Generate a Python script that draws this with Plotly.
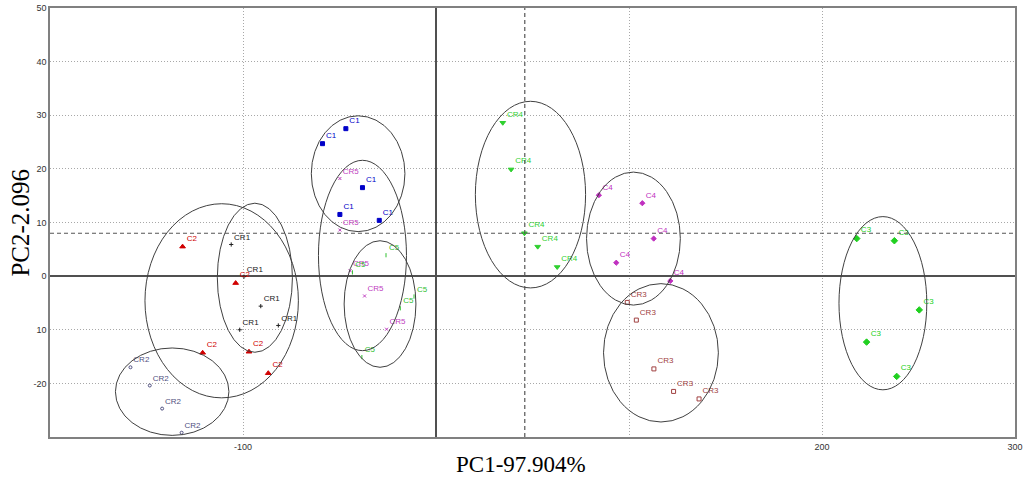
import plotly.graph_objects as go

# PCA scores (PC1, PC2)
c1_x = [-58.8, -46.7, -38.1, -49.8, -29.4]
c1_y = [24.7, 27.5, 16.5, 11.5, 10.4]
cr5_x = [-49.8, -49.8, -44.5, -37.0, -25.6]
cr5_y = [18.2, 8.6, 1.0, -3.7, -9.9]
c5_x = [-25.9, -11.4, -18.5, -38.4, -43.3]
c5_y = [3.9, -3.8, -6.0, -15.1, 0.7]
cr1_x = [-106.1, -99.5, -90.8, -101.7, -81.7]
cr1_y = [5.9, -0.1, -5.6, -10.0, -9.2]
c2_x = [-131.3, -103.8, -120.9, -96.9, -86.9]
c2_y = [5.5, -1.3, -14.3, -14.1, -18.1]
cr2_x = [-158.3, -148.3, -141.9, -131.8]
cr2_y = [-17.0, -20.4, -24.7, -29.2]
cr4_x = [34.6, 38.9, 45.8, 52.7, 62.8]
cr4_y = [28.6, 19.9, 8.0, 5.5, 1.7]
c4_x = [84.4, 106.9, 112.8, 93.4, 121.4]
c4_y = [15.1, 13.6, 7.0, 2.5, -0.9]
cr3_x = [99.1, 103.8, 112.9, 123.1, 136.3]
cr3_y = [-4.9, -8.2, -17.3, -21.5, -22.9]
c3_x = [218.0, 237.5, 250.4, 223.1, 238.7]
c3_y = [7.0, 6.6, -6.3, -12.3, -18.7]

# confidence ellipse bounds per group: x0, x1, y0, y1
ell_c1 = [-64.6, -16.1, 8.3, 29.9]
ell_cr5 = [-60.9, -15.3, -13.9, 21.6]
ell_c5 = [-47.6, -10.4, -17.0, 6.6]
ell_cr1 = [-113.3, -74.4, -14.2, 13.6]
ell_c2 = [-150.8, -71.3, -22.7, 13.5]
ell_cr2 = [-166.1, -107.3, -29.7, -13.4]
ell_cr4 = [20.4, 77.5, -2.2, 32.6]
ell_c4 = [78.0, 126.6, -5.4, 19.4]
ell_cr3 = [86.8, 146.3, -27.2, -1.4]
ell_c3 = [208.8, 254.3, -21.2, 11.1]

center_x = 46.0
center_y = 8.0

x_ticks = [-100, 0, 100, 200, 300]
x_labels = ["-100", "", "", "200", "300"]
y_ticks = [-20, -10, 0, 10, 20, 30, 40, 50]
y_labels = ["-20", "10", "0", "10", "20", "30", "40", "50"]

groups = [
    ("C1", c1_x, c1_y, "#0000c8", "square", 4),
    ("CR5", cr5_x, cr5_y, "#c040c0", "x-thin-open", 3),
    ("C5", c5_x, c5_y, "#30c030", "line-ns-open", 3),
    ("CR1", cr1_x, cr1_y, "#202020", "cross-thin-open", 3),
    ("C2", c2_x, c2_y, "#d00000", "triangle-up", 5),
    ("CR2", cr2_x, cr2_y, "#505080", "circle-open", 3),
    ("CR4", cr4_x, cr4_y, "#30d030", "triangle-down", 5),
    ("C4", c4_x, c4_y, "#c030c0", "diamond", 4),
    ("CR3", cr3_x, cr3_y, "#a04040", "square-open", 4),
    ("C3", c3_x, c3_y, "#20d020", "diamond", 5),
]
ellipses = [ell_c1, ell_cr5, ell_c5, ell_cr1, ell_c2,
            ell_cr2, ell_cr4, ell_c4, ell_cr3, ell_c3]

fig = go.Figure()

for name, xs, ys, color, symbol, size in groups:
    fig.add_trace(go.Scatter(
        x=xs, y=ys,
        mode='markers+text',
        text=[name] * len(xs),
        textposition='top right',
        textfont=dict(family='Liberation Sans', size=8, color=color),
        marker=dict(symbol=symbol, size=size, color=color,
                    line=dict(color=color, width=1)),
        name=name,
        showlegend=False,
    ))

shapes = []
for x0, x1, y0, y1 in ellipses:
    shapes.append(dict(type='circle', xref='x', yref='y',
                       x0=x0, x1=x1, y0=y0, y1=y1,
                       line=dict(color='#404040', width=1)))

# dashed centre cross
shapes.append(dict(type='line', xref='x', yref='paper', x0=center_x, x1=center_x,
                   y0=0, y1=1, line=dict(color='#555555', width=1.2, dash='4px,3px')))
shapes.append(dict(type='line', xref='paper', yref='y', x0=0, x1=1,
                   y0=center_y, y1=center_y, line=dict(color='#555555', width=1.2, dash='4px,3px')))

grid_dash = '1px,2px'

fig.update_layout(
    width=1024, height=484,
    margin=dict(l=50, r=9, t=8, b=47),
    plot_bgcolor='white',
    paper_bgcolor='white',
    shapes=shapes,
    xaxis=dict(
        range=[-200, 300],
        tickvals=x_ticks, ticktext=x_labels,
        showgrid=True, gridcolor='#a8a8a8', griddash=grid_dash, gridwidth=1,
        zeroline=True, zerolinecolor='#505050', zerolinewidth=1.5,
        showline=True, mirror=True, linecolor='#808080', linewidth=1.5,
        ticks='', automargin=False, ticklabeloverflow='allow',
        tickfont=dict(family='Liberation Sans', size=9, color='#333333'),
    ),
    yaxis=dict(
        range=[-30, 50],
        tickvals=y_ticks, ticktext=y_labels,
        showgrid=True, gridcolor='#a8a8a8', griddash=grid_dash, gridwidth=1,
        zeroline=True, zerolinecolor='#505050', zerolinewidth=1.5,
        showline=True, mirror=True, linecolor='#808080', linewidth=1.5,
        ticks='', automargin=False, ticklabeloverflow='allow',
        tickfont=dict(family='Liberation Sans', size=9, color='#333333'),
    ),
    annotations=[
        dict(text='PC1-97.904%', xref='paper', yref='paper', x=0.488, y=-0.065,
             xanchor='center', yanchor='middle', showarrow=False,
             font=dict(family='Liberation Serif', size=23, color='black')),
        dict(text='PC2-2.096', xref='paper', yref='paper', x=-0.031, y=0.5,
             xanchor='center', yanchor='middle', showarrow=False, textangle=-90,
             font=dict(family='Liberation Serif', size=25, color='black')),
    ],
)

# drop the default 8px body margin so the figure sits at the page corner
fig.write_html("out.html", config={'displayModeBar': False},
               post_script="document.body.style.margin='0';")
